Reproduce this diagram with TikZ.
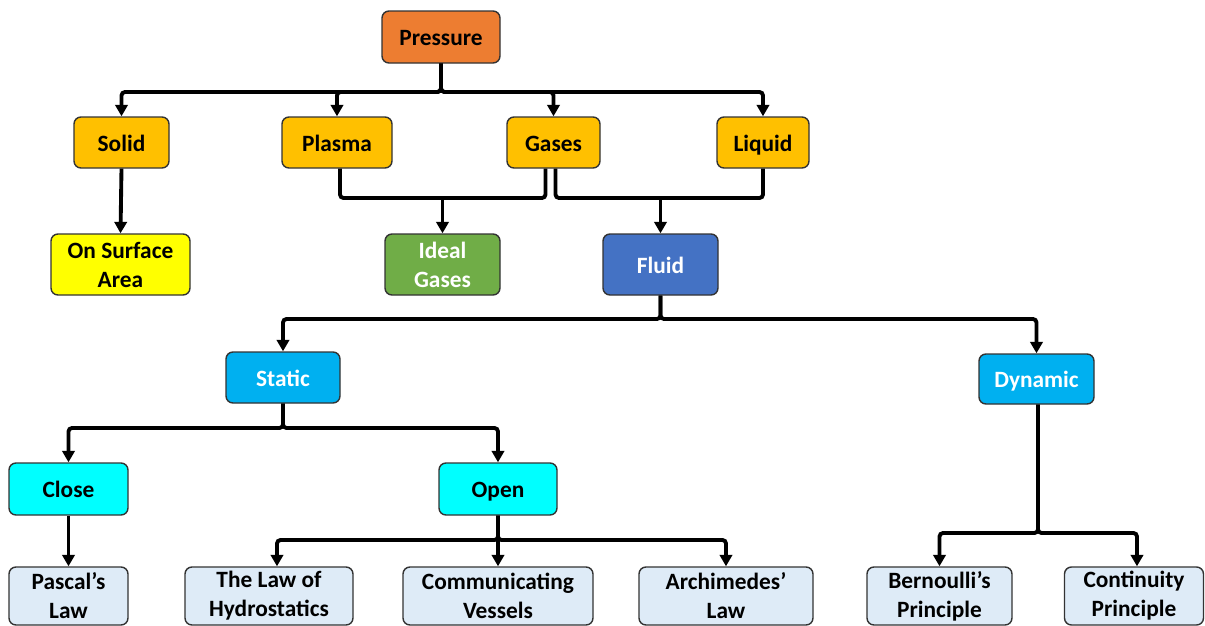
\documentclass[tikz,border=0pt]{standalone}
\usepackage{fontspec}
\setmainfont{Carlito}
\usetikzlibrary{arrows.meta,calc}
\definecolor{cPress}{HTML}{ED7D31}
\definecolor{cState}{HTML}{FFC000}
\definecolor{cYel}{HTML}{FFFF00}
\definecolor{cGreen}{HTML}{70AD47}
\definecolor{cBlue}{HTML}{4472C4}
\definecolor{cSky}{HTML}{00B0F0}
\definecolor{cCyan}{HTML}{00FFFF}
\definecolor{cPale}{HTML}{DEEBF7}
\begin{document}
\begin{tikzpicture}[x=0.02cm,y=-0.02cm,
  box/.style={draw=black!80,line width=0.8pt,rounded corners=0.14cm,align=center,
    font=\fontsize{13.3}{16.5}\selectfont\bfseries,inner sep=0pt},
  one/.style={text height=11pt,text depth=1pt},
  line/.style={draw=black,line width=2.2pt,rounded corners=2pt},
  arr/.style={line,-{Triangle[width=7pt,length=6.5pt]}}]
\useasboundingbox (0,0) rectangle (1205,626);
% nodes
\node[box,one,fill=cPress,minimum width=118*0.02cm,minimum height=52*0.02cm] (pressure) at (441,37) {Pressure};
\node[box,one,fill=cState,minimum width=95*0.02cm,minimum height=51*0.02cm] (solid) at (121.5,142.5) {Solid};
\node[box,one,fill=cState,minimum width=110*0.02cm,minimum height=51*0.02cm] (plasma) at (337,142.5) {Plasma};
\node[box,one,fill=cState,minimum width=93*0.02cm,minimum height=51*0.02cm] (gases) at (553.5,142.5) {Gases};
\node[box,one,fill=cState,minimum width=92*0.02cm,minimum height=51*0.02cm] (liquid) at (763,142.5) {Liquid};
\node[box,fill=cYel,minimum width=139*0.02cm,minimum height=61*0.02cm] (surface) at (120.5,264.5) {On Surface\\Area};
\node[box,fill=cGreen,text=white,minimum width=115*0.02cm,minimum height=61*0.02cm] (ideal) at (442.5,264.5) {Ideal\\Gases};
\node[box,one,fill=cBlue,text=white,minimum width=115*0.02cm,minimum height=61*0.02cm] (fluid) at (660.5,264.5) {Fluid};
\node[box,one,fill=cSky,text=white,minimum width=114*0.02cm,minimum height=51*0.02cm] (static) at (283,377.5) {Static};
\node[box,one,fill=cSky,text=white,minimum width=115*0.02cm,minimum height=50*0.02cm] (dynamic) at (1036.5,379) {Dynamic};
\node[box,one,fill=cCyan,minimum width=119*0.02cm,minimum height=52*0.02cm] (close) at (68.5,489) {Close};
\node[box,one,fill=cCyan,minimum width=118*0.02cm,minimum height=52*0.02cm] (open) at (498,489) {Open};
\node[box,fill=cPale,minimum width=119*0.02cm,minimum height=58*0.02cm] (pascal) at (68.5,596) {Pascal’s\\Law};
\node[box,fill=cPale,minimum width=168*0.02cm,minimum height=58*0.02cm] (hydro) at (269,596) {The Law of\\Hydrostatics};
\node[box,fill=cPale,minimum width=190*0.02cm,minimum height=58*0.02cm] (comm) at (498,596) {Communicating\\Vessels};
\node[box,fill=cPale,minimum width=174*0.02cm,minimum height=58*0.02cm] (arch) at (726,596) {Archimedes’\\Law};
\node[box,fill=cPale,minimum width=145*0.02cm,minimum height=58*0.02cm] (bern) at (939.5,596) {Bernoulli’s\\Principle};
\node[box,fill=cPale,minimum width=139*0.02cm,minimum height=58*0.02cm] (cont) at (1134,596) {Continuity\\Principle};
% bus levels
\coordinate (y1) at (0,92);
\coordinate (y2) at (0,198);
\coordinate (y3) at (0,319);
\coordinate (y4) at (0,428);
\coordinate (y5) at (0,540);
\coordinate (y6) at (0,533);
% connectors
\foreach \t in {solid,plasma,gases,liquid}
  \draw[arr] (pressure.south) -- (pressure.south |- y1) -| (\t.north);
\draw[line] ($(plasma.south)+(3,0)$) |- ($(gases.south |- y2)+(-8,0)$) -- ($(gases.south)+(-8,0)$);
\draw[arr] (ideal.north |- y2) -- (ideal.north);
\draw[line] ($(gases.south)+(2,0)$) |- (liquid.south |- y2) -- (liquid.south);
\draw[arr] (fluid.north |- y2) -- (fluid.north);
\draw[arr] (solid.south) -- (surface.north);
\foreach \t in {static,dynamic}
  \draw[arr] (fluid.south) -- (fluid.south |- y3) -| (\t.north);
\foreach \t in {close,open}
  \draw[arr] (static.south) -- (static.south |- y4) -| (\t.north);
\draw[arr] (close.south) -- (pascal.north);
\draw[arr] (open.south) -- (open.south |- y5) -| ($(hydro.north)+(8,0)$);
\draw[arr] (open.south) -- (comm.north);
\draw[arr] (open.south) -- (open.south |- y5) -| (arch.north);
\draw[arr] ($(dynamic.south)+(1.5,0)$) -- ($(dynamic.south |- y6)+(1.5,0)$) -| (bern.north);
\draw[arr] ($(dynamic.south)+(1.5,0)$) -- ($(dynamic.south |- y6)+(1.5,0)$) -| ($(cont.north)+(3,0)$);
\end{tikzpicture}
\end{document}
